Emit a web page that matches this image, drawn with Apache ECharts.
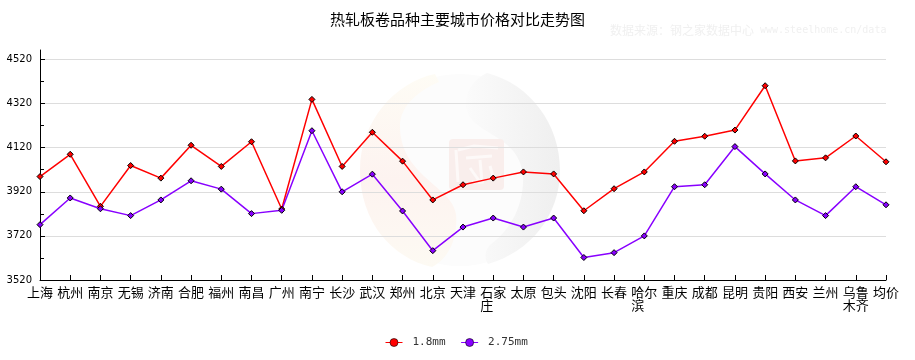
<!DOCTYPE html>
<html><head><meta charset="utf-8">
<style>html,body{margin:0;padding:0;background:#fff}#c{width:915px;height:360px}</style>
<script src="https://cdn.jsdelivr.net/npm/echarts@6/dist/echarts.min.js"></script>
</head><body><div id="c"></div>
<script>
const titleText = '热轧板卷品种主要城市价格对比走势图';
const sourceCn = '数据来源：钢之家数据中心';
const sourceUrl = 'www.steelhome.cn/data';
const categories = ['上海','杭州','南京','无锡','济南','合肥','福州','南昌','广州','南宁','长沙','武汉','郑州','北京','天津','石家庄','太原','包头','沈阳','长春','哈尔滨','重庆','成都','昆明','贵阳','西安','兰州','乌鲁木齐','均价'];
const seriesNames = ['1.8mm','2.75mm'];
const values18 = [3989,4090,3854,4039,3982,4131,4035,4147,3842,4339,4035,4190,4059,3883,3952,3982,4010,4001,3834,3934,4010,4149,4172,4200,4401,4060,4074,4173,4056];
const values275 = [3771,3892,3843,3812,3883,3970,3932,3821,3836,4197,3920,4000,3833,3653,3760,3801,3760,3801,3622,3644,3720,3943,3952,4125,4001,3883,3812,3943,3861];
const majorTicks = [3520,3720,3920,4120,4320,4520];
const minorTicks = [3620,3820,4020,4220,4420];
const CJK = '"Noto Sans CJK SC","Noto Sans CJK JP",sans-serif';

function wrapLabel(s){
  if (s.length <= 2) return s;
  const rest = s.slice(2);
  return s.slice(0,2) + '\n' + rest + (rest.length === 1 ? '\u3000' : '');
}
function lineSeries(name, values, color){
  return {
    name, type:'line', symbol:'circle', symbolSize:6, smooth:false,
    data: values.map(v => ({value:v, symbol:'diamond'})),
    lineStyle:{color, width:1.5},
    itemStyle:{color, borderColor:'#000', borderWidth:1},
    emphasis:{disabled:true}, animation:false
  };
}
echarts.graphic.registerShape('logoWarm', echarts.graphic.extendPath('M435 74 C395 82 360 122 360 170 C360 222 392 258 432 267 C450 258 458 236 456 214 C452 186 400 176 400 126 C400 105 420 90 439 82 Z', {}));
echarts.graphic.registerShape('logoGrey', echarts.graphic.extendPath('M487 73 C530 84 560 124 560 170 C560 216 530 252 488 264 C484 258 485 250 490 245 C516 226 524 198 523 176 C520 130 462 136 466 100 C468 88 476 78 487 73 Z', {}));
echarts.graphic.registerShape('logoSeal', echarts.graphic.extendPath('M458 150 L474 146 L498 148 M456 150 L458 182 M466 158 L492 156 M470 168 L480 182 M480 160 L482 182 L472 182 M490 166 L494 180', {}));
const warmGrad = new echarts.graphic.LinearGradient(0,0,0,1,[{offset:0,color:'#fefcf5'},{offset:0.55,color:'#fdf3f0'},{offset:1,color:'#fdfaf3'}]);
const greyGrad = new echarts.graphic.LinearGradient(0,0,1,0,[{offset:0,color:'#fbfbfb'},{offset:1,color:'#efefef'}]);
const chart = echarts.init(document.getElementById('c'), null, {renderer:'canvas'});
chart.setOption({
  animation:false,
  backgroundColor:'#fff',
  title:{text:titleText, left:'center', top:7, itemGap:0,
    textStyle:{fontFamily:CJK, fontSize:15, fontWeight:'normal', color:'#000'}},
  legend:{left:380, top:332, itemWidth:17, itemHeight:10, itemGap:15,
    selectedMode:false, data:seriesNames,
    lineStyle:{width:1},
    itemStyle:{borderWidth:0.6},
    textStyle:{fontFamily:'"DejaVu Sans Mono",monospace', fontSize:11, color:'#333', padding:[0,0,0,5]}},
  grid:{left:40, right:29, top:50, bottom:80, containLabel:false},
  xAxis:{type:'category', data:categories, boundaryGap:false,
    axisLine:{lineStyle:{color:'#000', width:1}},
    axisTick:{inside:true, length:5, interval:0, lineStyle:{color:'#000'}},
    axisLabel:{interval:0, hideOverlap:false, margin:6, color:'#000', fontFamily:CJK, fontSize:13, lineHeight:13, formatter:wrapLabel},
    splitLine:{show:false}},
  yAxis:[
    {type:'value', min:3520, max:4563, interval:200,
     axisLine:{show:true, lineStyle:{color:'#000', width:1}},
     axisTick:{show:true, inside:true, length:5, customValues:majorTicks, lineStyle:{color:'#000'}},
     axisLabel:{customValues:majorTicks, margin:8, color:'#000', fontFamily:'"DejaVu Sans",sans-serif', fontSize:10, formatter:v => String(v)},
     splitLine:{show:true, lineStyle:{color:'#dddddd', width:1}}},
    {type:'value', min:3520, max:4563, position:'left', interval:100,
     axisLine:{show:false},
     axisTick:{show:true, inside:true, length:4, customValues:minorTicks, lineStyle:{color:'#000'}},
     axisLabel:{show:false},
     splitLine:{show:false}}
  ],
  series:[ lineSeries(seriesNames[0], values18, '#ff0000'), lineSeries(seriesNames[1], values275, '#8800ff') ],
  graphic:[
    {type:'circle', z:-5, silent:true, shape:{cx:460,cy:170,r:96}, style:{fill:'#fcfcfc'}},
    {type:'logoWarm', z:-4, silent:true, style:{fill:warmGrad}},
    {type:'logoGrey', z:-4, silent:true, style:{fill:greyGrad}},
    {type:'rect', z:-3, silent:true, shape:{x:449,y:139,width:55,height:51,r:4}, style:{fill:'#f9eeec'}},
    {type:'logoSeal', z:-2, silent:true, style:{fill:'none', stroke:'#fdf9f8', lineWidth:3}},
    {type:'text', z:-1, silent:true, left:610, top:24, style:{text:sourceCn, fill:'#f0f0f0', font:'12px "Noto Sans CJK SC",sans-serif'}},
    {type:'text', z:-1, silent:true, left:760, top:25, style:{text:sourceUrl, fill:'#f0f0f0', font:'10px "DejaVu Sans Mono",monospace'}}
  ]
});
</script></body></html>
